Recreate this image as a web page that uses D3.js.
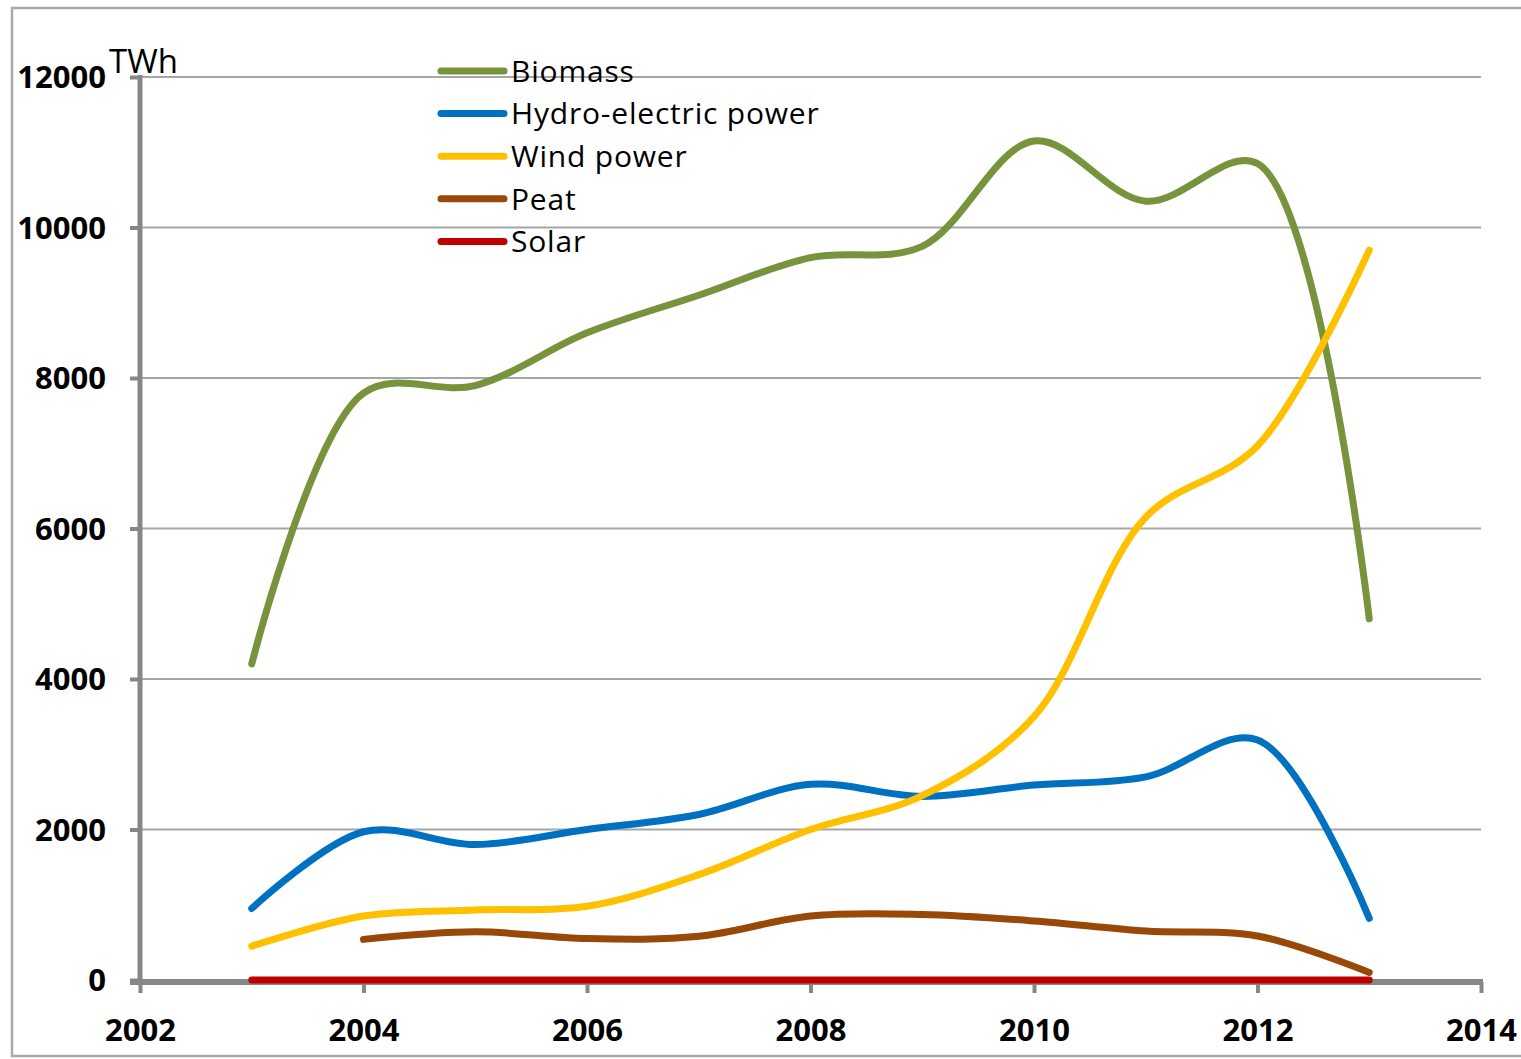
<!DOCTYPE html>
<html>
<head>
<meta charset="utf-8">
<script src="https://cdn.jsdelivr.net/npm/d3@7"></script>
<style>
  html, body { margin: 0; padding: 0; background: #fff; }
  svg { display: block; }
</style>
</head>
<body>
<svg id="chart" width="1521" height="1059"></svg>
<script>
// Electricity generation by source, TWh
const years   = [2003, 2004, 2005, 2006, 2007, 2008, 2009, 2010, 2011, 2012, 2013];
const biomass = [4200, 7800, 7900, 8600, 9100, 9600, 9750, 11150, 10350, 10850, 4800];
const hydro   = [950, 1970, 1800, 2000, 2200, 2600, 2440, 2590, 2700, 3190, 820];
const wind    = [450, 850, 930, 980, 1400, 2000, 2450, 3500, 6150, 7100, 9700];
const peat    = [null, 540, 640, 550, 580, 850, 870, 785, 650, 585, 100];
const solar   = [0, 0, 0, 0, 0, 0, 0, 0, 0, 0, 0];

const seriesNames  = ["Biomass", "Hydro-electric power", "Wind power", "Peat", "Solar"];
const seriesValues = [biomass, hydro, wind, peat, solar];
const seriesColors = ["#77933C", "#0070C0", "#FFC000", "#984807", "#C00000"];

const xTicks = [2002, 2004, 2006, 2008, 2010, 2012, 2014];
const yTicks = [0, 2000, 4000, 6000, 8000, 10000, 12000];
const unitLabel = "TWh";

const svg = d3.select("#chart");

const plot = { left: 140, right: 1481, top: 77, bottom: 980 };
const x = d3.scaleLinear().domain([2002, 2014]).range([plot.left, plot.right]);
const y = d3.scaleLinear().domain([0, 12000]).range([plot.bottom, plot.top]);

const axisColor = "#878787";
const gridColor = "#a6a6a6";
const font = "'Open Sans', 'Noto Sans', sans-serif";

// outer frame
svg.append("rect")
  .attr("x", 12).attr("y", 8)
  .attr("width", 1540).attr("height", 1048)
  .attr("fill", "none")
  .attr("stroke", "#a9a9a9")
  .attr("stroke-width", 2.5);

// horizontal gridlines
svg.append("g")
  .selectAll("line")
  .data(yTicks.filter(d => d > 0))
  .join("line")
  .attr("x1", plot.left).attr("x2", plot.right)
  .attr("y1", d => y(d)).attr("y2", d => y(d))
  .attr("stroke", gridColor)
  .attr("stroke-width", 2);

// y axis
const yAxis = d3.axisLeft(y).tickValues(yTicks).tickSize(10).tickPadding(24).tickFormat(d3.format("d"));
const gy = svg.append("g").attr("transform", `translate(${plot.left},0)`).call(yAxis);
gy.select(".domain").remove();
gy.selectAll(".tick line").attr("stroke", axisColor).attr("stroke-width", 4);
gy.selectAll(".tick text")
  .attr("fill", "#000")
  .attr("font-family", font)
  .attr("font-weight", "bold")
  .attr("font-size", 31)
  .attr("dy", "0.35em");
gy.append("line")
  .attr("x1", 0).attr("x2", 0)
  .attr("y1", plot.top - 2).attr("y2", plot.bottom + 2)
  .attr("stroke", axisColor).attr("stroke-width", 5);

// x axis
const xAxis = d3.axisBottom(x).tickValues(xTicks).tickSize(11).tickPadding(26).tickFormat(d3.format("d"));
const gx = svg.append("g").attr("transform", `translate(0,${plot.bottom + 2})`).call(xAxis);
gx.select(".domain").remove();
gx.selectAll(".tick line").attr("stroke", axisColor).attr("stroke-width", 4);
gx.selectAll(".tick text")
  .attr("fill", "#000")
  .attr("font-family", font)
  .attr("font-weight", "bold")
  .attr("font-size", 31);
gx.append("line")
  .attr("x1", plot.left - 10).attr("x2", plot.right + 2)
  .attr("y1", 0).attr("y2", 0)
  .attr("stroke", axisColor).attr("stroke-width", 6);

// unit label
svg.append("text")
  .attr("x", 109).attr("y", 73)
  .attr("font-family", font)
  .attr("font-size", 33)
  .attr("fill", "#000")
  .text(unitLabel);

// series lines
const line = d3.line()
  .defined(d => d.v !== null)
  .x(d => x(d.year))
  .y(d => y(d.v))
  .curve(d3.curveCatmullRom.alpha(0.5));

const seriesG = svg.append("g");
seriesNames.forEach((name, i) => {
  const pts = years.map((yr, j) => ({ year: yr, v: seriesValues[i][j] }));
  seriesG.append("path")
    .datum(pts)
    .attr("fill", "none")
    .attr("stroke", seriesColors[i])
    .attr("stroke-width", 7)
    .attr("stroke-linecap", "round")
    .attr("stroke-linejoin", "round")
    .attr("d", line);
});

// legend
const legend = svg.append("g").attr("transform", "translate(441,71)");
const rowH = 42.6;
seriesNames.forEach((name, i) => {
  const row = legend.append("g").attr("transform", `translate(0,${i * rowH})`);
  row.append("line")
    .attr("x1", 0).attr("x2", 63)
    .attr("y1", 0).attr("y2", 0)
    .attr("stroke", seriesColors[i])
    .attr("stroke-width", 7)
    .attr("stroke-linecap", "round");
  row.append("text")
    .attr("x", 70).attr("y", 0)
    .attr("dy", "0.36em")
    .attr("font-family", font)
    .attr("font-size", 30)
    .attr("letter-spacing", 0.8)
    .attr("fill", "#000")
    .text(name);
});
</script>
</body>
</html>
